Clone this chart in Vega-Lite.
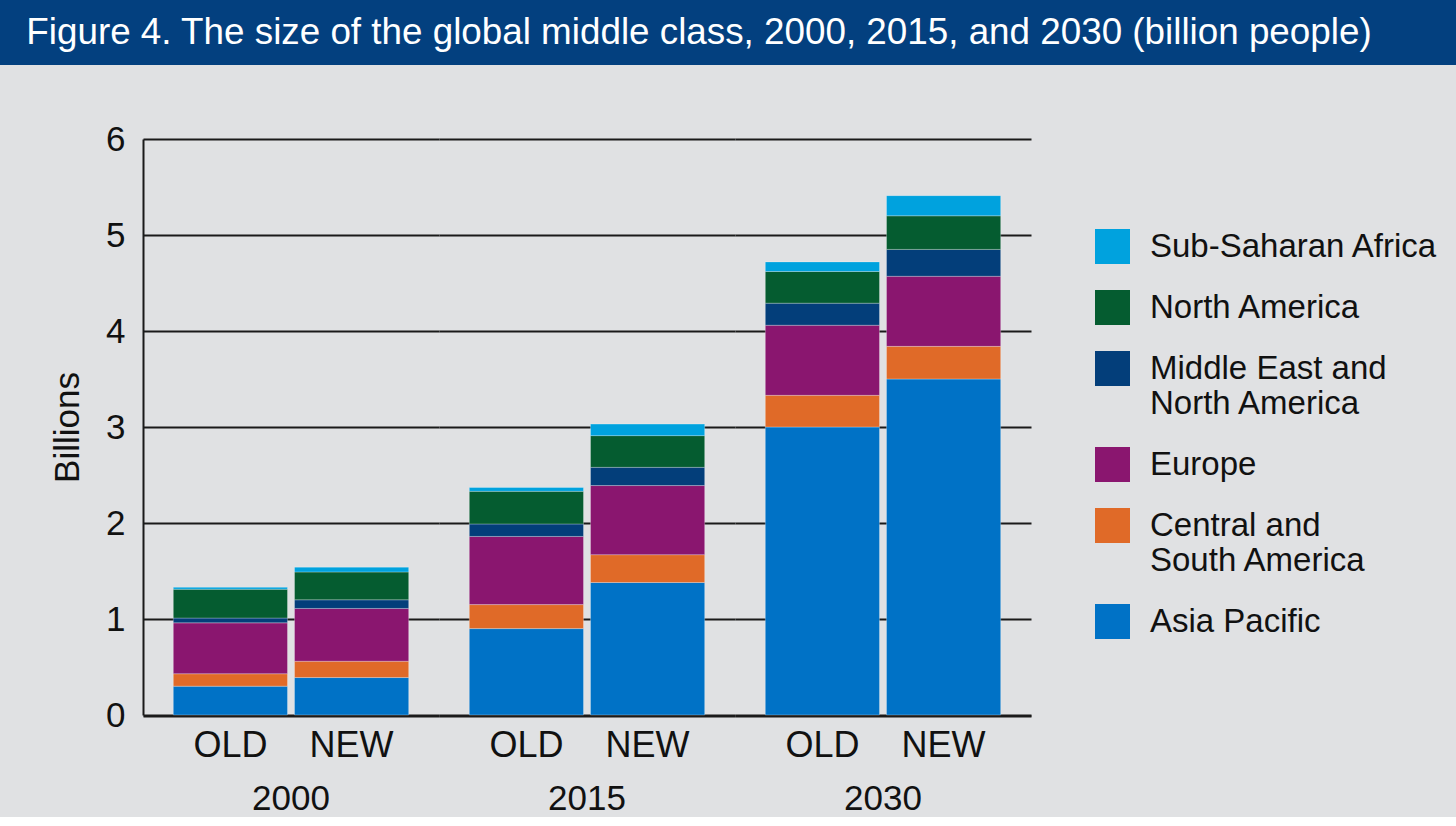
{
  "$schema": "https://vega.github.io/schema/vega-lite/v6.json",
  "background": "#e0e1e3",
  "padding": 0,
  "spacing": 57,
  "config": {
    "font": "Liberation Sans",
    "view": {"stroke": null},
    "axis": {"labelColor": "#111111", "titleColor": "#111111", "labelFont": "Liberation Sans", "titleFont": "Liberation Sans"},
    "header": {"labelFont": "Liberation Sans"},
    "legend": {"labelFont": "Liberation Sans"}
  },
  "vconcat": [
    {
      "width": 1456,
      "height": 65,
      "view": {"fill": "#03407f", "stroke": null},
      "data": {"values": [{"t": "Figure 4. The size of the global middle class, 2000, 2015, and 2030 (billion people)"}]},
      "mark": {"type": "text", "color": "#ffffff", "fontSize": 36.8, "align": "center", "baseline": "middle", "dx": -29, "font": "Liberation Sans"},
      "encoding": {"text": {"field": "t", "type": "nominal"}}
    },
    {
      "spacing": 0,
      "hconcat": [
        {
          "width": 50,
          "height": 10,
          "data": {"values": []},
          "mark": "rect",
          "encoding": {}
        },
        {
          "data": {
            "values": [
              {"year": "2000", "version": "OLD", "region": "Asia Pacific", "value": 0.30},
              {"year": "2000", "version": "OLD", "region": "Central and South America", "value": 0.13},
              {"year": "2000", "version": "OLD", "region": "Europe", "value": 0.53},
              {"year": "2000", "version": "OLD", "region": "Middle East and North America", "value": 0.05},
              {"year": "2000", "version": "OLD", "region": "North America", "value": 0.30},
              {"year": "2000", "version": "OLD", "region": "Sub-Saharan Africa", "value": 0.02},
              {"year": "2000", "version": "NEW", "region": "Asia Pacific", "value": 0.39},
              {"year": "2000", "version": "NEW", "region": "Central and South America", "value": 0.17},
              {"year": "2000", "version": "NEW", "region": "Europe", "value": 0.55},
              {"year": "2000", "version": "NEW", "region": "Middle East and North America", "value": 0.09},
              {"year": "2000", "version": "NEW", "region": "North America", "value": 0.29},
              {"year": "2000", "version": "NEW", "region": "Sub-Saharan Africa", "value": 0.05},
              {"year": "2015", "version": "OLD", "region": "Asia Pacific", "value": 0.90},
              {"year": "2015", "version": "OLD", "region": "Central and South America", "value": 0.25},
              {"year": "2015", "version": "OLD", "region": "Europe", "value": 0.71},
              {"year": "2015", "version": "OLD", "region": "Middle East and North America", "value": 0.13},
              {"year": "2015", "version": "OLD", "region": "North America", "value": 0.34},
              {"year": "2015", "version": "OLD", "region": "Sub-Saharan Africa", "value": 0.04},
              {"year": "2015", "version": "NEW", "region": "Asia Pacific", "value": 1.38},
              {"year": "2015", "version": "NEW", "region": "Central and South America", "value": 0.29},
              {"year": "2015", "version": "NEW", "region": "Europe", "value": 0.72},
              {"year": "2015", "version": "NEW", "region": "Middle East and North America", "value": 0.19},
              {"year": "2015", "version": "NEW", "region": "North America", "value": 0.33},
              {"year": "2015", "version": "NEW", "region": "Sub-Saharan Africa", "value": 0.12},
              {"year": "2030", "version": "OLD", "region": "Asia Pacific", "value": 3.00},
              {"year": "2030", "version": "OLD", "region": "Central and South America", "value": 0.33},
              {"year": "2030", "version": "OLD", "region": "Europe", "value": 0.73},
              {"year": "2030", "version": "OLD", "region": "Middle East and North America", "value": 0.23},
              {"year": "2030", "version": "OLD", "region": "North America", "value": 0.33},
              {"year": "2030", "version": "OLD", "region": "Sub-Saharan Africa", "value": 0.10},
              {"year": "2030", "version": "NEW", "region": "Asia Pacific", "value": 3.50},
              {"year": "2030", "version": "NEW", "region": "Central and South America", "value": 0.34},
              {"year": "2030", "version": "NEW", "region": "Europe", "value": 0.73},
              {"year": "2030", "version": "NEW", "region": "Middle East and North America", "value": 0.28},
              {"year": "2030", "version": "NEW", "region": "North America", "value": 0.35},
              {"year": "2030", "version": "NEW", "region": "Sub-Saharan Africa", "value": 0.21}
            ]
          },
          "facet": {
            "column": {
              "field": "year",
              "type": "ordinal",
              "header": {"title": null, "labelOrient": "bottom", "labelFontSize": 35, "labelPadding": 19, "labelColor": "#111111"}
            }
          },
          "spacing": 0,
          "spec": {
            "width": 296,
            "height": 576,
            "mark": {"type": "bar", "stroke": "#ffffff", "strokeWidth": 0.6, "strokeOpacity": 0.45},
            "encoding": {
              "x": {
                "field": "version",
                "type": "nominal",
                "sort": ["OLD", "NEW"],
                "scale": {"paddingInner": 0.058, "paddingOuter": 0.25},
                "axis": {"title": null, "labelAngle": 0, "labelFontSize": 36, "labelPadding": 12, "ticks": false, "domainColor": "#1a1a1a", "domainWidth": 2}
              },
              "y": {
                "field": "value",
                "type": "quantitative",
                "stack": "zero",
                "scale": {"domain": [0, 6]},
                "axis": {"values": [0, 1, 2, 3, 4, 5, 6], "title": "Billions", "titleFontSize": 35, "titleFontWeight": "normal", "titlePadding": 20, "labelFontSize": 35, "labelPadding": 18, "ticks": false, "gridColor": "#1a1a1a", "gridWidth": 2, "gridOpacity": 1, "domainColor": "#1a1a1a", "domainWidth": 2}
              },
              "color": {
                "field": "region",
                "type": "nominal",
                "scale": {
                  "domain": ["Sub-Saharan Africa", "North America", "Middle East and North America", "Europe", "Central and South America", "Asia Pacific"],
                  "range": ["#00a2de", "#055c30", "#033e7a", "#8a166f", "#e06a28", "#0072c6"]
                },
                "legend": {
                  "title": null,
                  "orient": "none",
                  "legendX": 1095,
                  "legendY": 229,
                  "direction": "vertical",
                  "symbolType": "square",
                  "symbolSize": 1225,
                  "symbolStrokeWidth": 0,
                  "symbolOpacity": 1,
                  "labelFontSize": 33,
                  "labelColor": "#111111",
                  "labelOffset": 20,
                  "labelLimit": 400,
                  "rowPadding": 26,
                  "labelExpr": "datum.label == 'Middle East and North America' ? ['Middle East and', 'North America'] : datum.label == 'Central and South America' ? ['Central and', 'South America'] : datum.label"
                }
              },
              "order": {"field": "region", "sort": "ascending"}
            }
          }
        }
      ]
    }
  ]
}
